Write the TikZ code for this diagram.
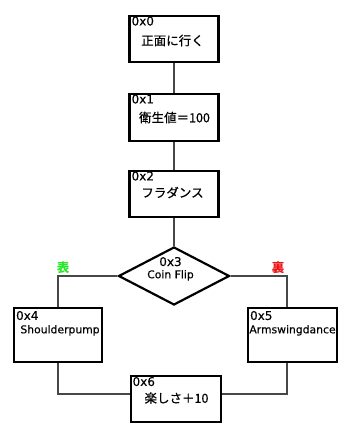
\documentclass[tikz,border=0pt]{standalone}
\usepackage{fontspec}
\setmainfont{DejaVu Sans}[FakeBold=0.3]
\newfontfamily\jp{Noto Sans CJK JP}[FakeBold=0.5]
\newfontfamily\jpb{Noto Sans CJK JP}
\usetikzlibrary{shapes.geometric,calc}
\begin{document}
\begin{tikzpicture}[x=1pt,y=-1pt,
  box/.style={draw=black, line width=2.2pt, fill=white, inner sep=0pt, minimum width=89pt, minimum height=46pt},
  dia/.style={diamond, draw=black, line width=2.2pt, fill=white, inner sep=0pt, minimum width=111pt, minimum height=58pt},
  conn/.style={draw=black!72, line width=1.1pt},
  ttl/.style={anchor=base west, inner sep=0pt, font=\fontsize{12}{14}\selectfont},
  lbl/.style={inner sep=0pt, font=\jp\fontsize{12.5}{14}\selectfont},
  lblb/.style={anchor=base, inner sep=0pt, font=\fontsize{10.8}{13}\selectfont},
  tag/.style={inner sep=0pt, font=\jpb\fontsize{12.5}{14}\selectfont\bfseries}]
\useasboundingbox[fill=white] (0,0) rectangle (350,438);

% shapes
\node[box] (b0) at (174,39) {};
\node[box, minimum height=47pt] (b1) at (174,117.5) {};
\node[box] (b2) at (174,194) {};
\node[dia] (d3) at (174,276) {};
\node[box, minimum width=88pt, minimum height=54pt] (b4) at (58,335) {};
\node[box, minimum height=54pt] (b5) at (292.5,335) {};
\node[box, minimum width=90pt] (b6) at (176,399) {};

% connector points
\coordinate (b5in) at ([xshift=-5.5pt]b5.north);
\coordinate (b5out) at ([xshift=-5.5pt]b5.south);
\coordinate (j6l) at ([yshift=5pt]b6.west);
\coordinate (j6r) at ([yshift=5pt]b6.east);

% connectors
\draw[conn] (b0) -- (b1);
\draw[conn] (b1) -- (b2);
\draw[conn] (b2) -- (d3);
\draw[conn] (d3.west) -| (b4.north);
\draw[conn] (d3.east) -| (b5in);
\draw[conn] (b4.south) |- (j6l);
\draw[conn] (b5out) |- (j6r);

% titles
\node[ttl] (t0) at ([shift={(3pt,-10.5pt)}]b0.north west) {0x0};
\node[ttl] (t1) at ([shift={(3pt,-10.5pt)}]b1.north west) {0x1};
\node[ttl] (t2) at ([shift={(3pt,-10.5pt)}]b2.north west) {0x2};
\node[ttl, anchor=base] (t3) at (170.5,266) {0x3};
\node[ttl] (t4) at ([shift={(3pt,-13pt)}]b4.north west) {0x4};
\node[ttl] (t5) at ([shift={(3pt,-13pt)}]b5.north west) {0x5};
\node[ttl] (t6) at ([shift={(2.5pt,-11pt)}]b6.north west) {0x6};

% labels
\node[lbl] (l0) at (172.5,40.5) {正面に行く};
\node[lbl] (l1) at (174.5,117.5) {衛生値＝100};
\node[lbl] (l2) at (172.5,192.5) {フラダンス};
\node[lblb] (l3) at (170.5,278.3) {Coin Flip};
\node[lblb] (l4) at (60,333.3) {Shoulderpump};
\node[lblb] (l5) at (292.5,333.3) {Armswingdance};
\node[lbl] (l6) at (176.5,398) {楽しさ＋10};

% branch tags
\node[tag, text={rgb,255:red,40;green,230;blue,40}] (g1) at (63,267.5) {表};
\node[tag, text={rgb,255:red,235;green,20;blue,20}] (g2) at (278,267.5) {裏};
\end{tikzpicture}
\end{document}
